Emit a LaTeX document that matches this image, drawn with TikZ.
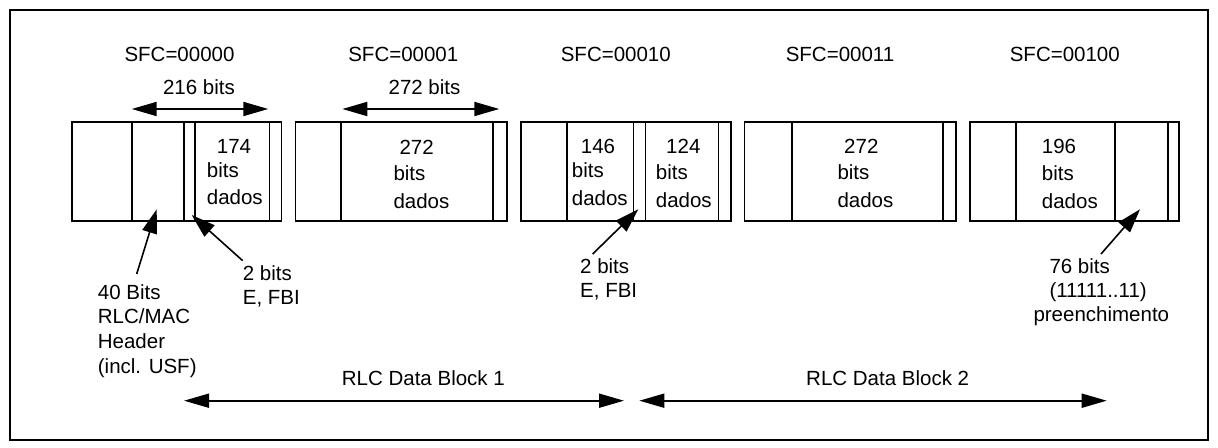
\documentclass[tikz,border=0pt]{standalone}
\usepackage{fontspec}
\setmainfont{Liberation Sans}
\usetikzlibrary{arrows.meta}
\begin{document}
\begin{tikzpicture}[x=1bp,y=-1bp,
  frame/.style={draw, line width=1.4bp},
  cell/.style={draw, line width=1.6bp},
  txt/.style={anchor=base west, inner sep=0pt, font=\fontsize{20.5bp}{25bp}\selectfont},
  ctxt/.style={anchor=base, inner sep=0pt, font=\fontsize{20.5bp}{25bp}\selectfont},
  dimarrow/.style={line width=1.8bp, {Triangle[length=25bp,width=14bp]}-{Triangle[length=25bp,width=14bp]}},
  ptr/.style={line width=1.6bp, -{Triangle[length=24bp,width=15bp]}}
]
\useasboundingbox (0,0) rectangle (1218,448);
\draw[frame] (10,10) rectangle (1208,440);

% blocks
\draw[cell] (71.7,122) rectangle (281.5,221);
\foreach \x in {131.7,184,195,269.3} \draw[cell] (\x,122) -- (\x,221);
\draw[cell] (295.5,122) rectangle (506.7,221);
\foreach \x in {341,492.7} \draw[cell] (\x,122) -- (\x,221);
\draw[cell] (520.7,122) rectangle (730.7,221);
\foreach \x in {566.7,633.5,645.5,718.3} \draw[cell] (\x,122) -- (\x,221);
\draw[cell] (744.3,122) rectangle (955.7,221);
\foreach \x in {791.7,943} \draw[cell] (\x,122) -- (\x,221);
\draw[cell] (970,122) rectangle (1179,221);
\foreach \x in {1015.7,1115,1167.7} \draw[cell] (\x,122) -- (\x,221);

% SFC labels
\node[ctxt] (s0) at (179.5,61.7) {SFC=00000};
\node[ctxt] (s1) at (403.3,61.7) {SFC=00001};
\node[ctxt] (s2) at (615.8,61.7) {SFC=00010};
\node[ctxt] (s3) at (840,61.7) {SFC=00011};
\node[ctxt] (s4) at (1064.8,61.7) {SFC=00100};

% dimension arrows
\node[ctxt] (w1) at (199,95) {216 bits};
\node[ctxt] (w2) at (424.5,95) {272 bits};
\coordinate (d1l) at (131.7,109); \coordinate (d1r) at (268.3,109);
\coordinate (d2l) at (342.3,109); \coordinate (d2r) at (499.3,109);
\draw[dimarrow] (d1l) -- (d1r);
\draw[dimarrow] (d2l) -- (d2r);

% box texts
\node[txt] (b1a) at (216.7,154) {174};
\node[txt] (b1b) at (206.7,178) {bits};
\node[txt] (b1c) at (206.7,205) {dados};
\node[txt] (b2a) at (399.3,155) {272};
\node[txt] (b2b) at (393.3,181) {bits};
\node[txt] (b2c) at (393.3,209) {dados};
\node[txt] (b3a) at (580.7,154) {146};
\node[txt] (b3b) at (571.7,178) {bits};
\node[txt] (b3c) at (571.7,206) {dados};
\node[txt] (b4a) at (666,154) {124};
\node[txt] (b4b) at (655.7,180) {bits};
\node[txt] (b4c) at (655.7,208) {dados};
\node[txt] (b5a) at (844,154) {272};
\node[txt] (b5b) at (837.3,180) {bits};
\node[txt] (b5c) at (837.3,208) {dados};
\node[txt] (b6a) at (1041.7,154) {196};
\node[txt] (b6b) at (1041.7,181) {bits};
\node[txt] (b6c) at (1041.7,209) {dados};

% bottom labels
\node[txt] (h1) at (97.7,299.3) {40 Bits};
\node[txt] (h2) at (97.7,324) {RLC/MAC};
\node[txt] (h3) at (97.7,349) {Header};
\node[txt] (h4) at (97.7,374) {(incl. USF)};
\node[txt] (e1) at (242.7,280.7) {2 bits};
\node[txt] (e2) at (242.7,305) {E, FBI};
\node[txt] (f1) at (580,273.3) {2 bits};
\node[txt] (f2) at (580,297.5) {E, FBI};
\node[txt] (g1) at (1049.3,273.3) {76 bits};
\node[txt] (g2) at (1049.3,297.3) {(11111..11)};
\node[txt] (g3) at (1033.3,321.7) {preenchimento};

% pointers
\coordinate (p1t) at (136.7,274); \coordinate (p1h) at (156.7,209.3);
\coordinate (p2t) at (242.7,260.7); \coordinate (p2h) at (191.7,215);
\coordinate (p3t) at (592.7,254); \coordinate (p3h) at (638.3,209.3);
\coordinate (p4t) at (1101,254); \coordinate (p4h) at (1140,209.3);
\draw[ptr] (p1t) -- (p1h);
\draw[ptr] (p2t) -- (p2h);
\draw[ptr] (p3t) -- (p3h);
\draw[ptr] (p4t) -- (p4h);

% RLC data blocks
\node[txt] (r1) at (341.7,386) {RLC Data Block 1};
\node[txt] (r2) at (806,386) {RLC Data Block 2};
\coordinate (r1l) at (184,400.7); \coordinate (r1r) at (624,400.7);
\coordinate (r2l) at (639.3,400.7); \coordinate (r2r) at (1106.7,400.7);
\draw[dimarrow] (r1l) -- (r1r);
\draw[dimarrow] (r2l) -- (r2r);
\end{tikzpicture}
\end{document}
